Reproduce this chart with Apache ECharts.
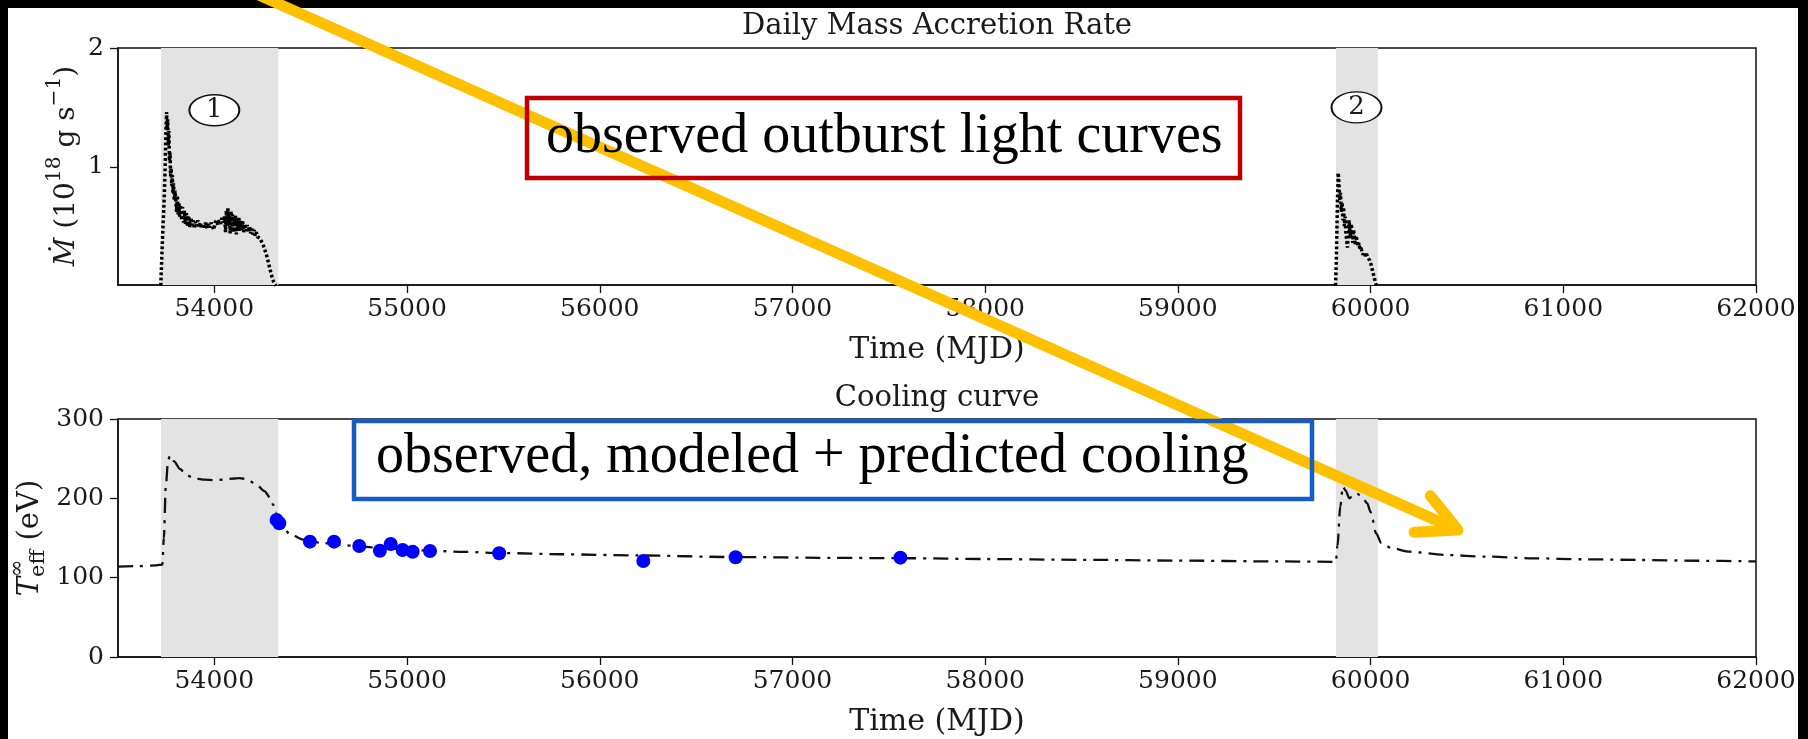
<!DOCTYPE html>
<html>
<head>
<meta charset="utf-8">
<script src="https://cdn.jsdelivr.net/npm/echarts@6/dist/echarts.min.js"></script>
<style>
  html, body { margin: 0; padding: 0; background: #000; }
  #chart { width: 1808px; height: 739px; }
</style>
</head>
<body>
<div id="chart"></div>
<script>
// ---- data -------------------------------------------------------------
const xTicks = [54000, 55000, 56000, 57000, 58000, 59000, 60000, 61000, 62000];
const mdotTicks = [1, 2];
const tempTicks = [0, 100, 200, 300];

// outburst windows (MJD)
const outburstBands = [[53723, 54332], [59820, 60038]];
const outburstLabels = [['1', 54000, 1.476], ['2', 59927, 1.50]];

// daily mass accretion rate, outburst 1  [MJD, 1e18 g/s]
const outburst1 = [
  [53722, 0.00], [53726, 0.18], [53730, 0.36], [53734, 0.52], [53738, 0.66],
  [53744, 0.95], [53748, 1.25], [53752, 1.46], [53755, 1.32], [53758, 1.40],
  [53761, 1.18], [53764, 1.30], [53767, 1.05], [53770, 1.12], [53773, 0.92],
  [53776, 0.99], [53779, 0.84], [53782, 0.93], [53785, 0.78], [53788, 0.86],
  [53792, 0.72], [53796, 0.80], [53800, 0.72], [53804, 0.62], [53808, 0.76],
  [53812, 0.60], [53816, 0.70], [53820, 0.58], [53825, 0.68], [53830, 0.55],
  [53835, 0.66], [53840, 0.53], [53845, 0.63], [53850, 0.52], [53855, 0.61],
  [53860, 0.50], [53866, 0.59], [53872, 0.49], [53878, 0.57], [53884, 0.51],
  [53890, 0.55], [53896, 0.48], [53902, 0.54], [53908, 0.50], [53914, 0.55],
  [53920, 0.49], [53927, 0.53], [53934, 0.48], [53941, 0.52], [53948, 0.49],
  [53955, 0.53], [53962, 0.48], [53969, 0.52], [53976, 0.49], [53983, 0.53],
  [53990, 0.50], [53997, 0.47], [54004, 0.53], [54011, 0.55], [54018, 0.51],
  [54025, 0.55], [54032, 0.52], [54039, 0.57], [54046, 0.53], [54053, 0.58],
  [54058, 0.45], [54062, 0.63], [54066, 0.50], [54070, 0.65], [54074, 0.54],
  [54078, 0.62], [54082, 0.44], [54086, 0.63], [54090, 0.52], [54094, 0.60],
  [54098, 0.45], [54102, 0.58], [54106, 0.50], [54110, 0.59], [54114, 0.43],
  [54118, 0.56], [54122, 0.48], [54127, 0.57], [54132, 0.46], [54137, 0.55],
  [54142, 0.47], [54147, 0.54], [54152, 0.45], [54158, 0.52], [54164, 0.46],
  [54170, 0.51], [54176, 0.45], [54182, 0.50], [54188, 0.44], [54194, 0.48],
  [54200, 0.43], [54206, 0.47], [54212, 0.42], [54218, 0.45], [54224, 0.41],
  [54230, 0.41], [54236, 0.40], [54242, 0.38], [54248, 0.36], [54254, 0.34],
  [54260, 0.31], [54266, 0.28], [54272, 0.25], [54278, 0.21], [54284, 0.17],
  [54290, 0.13], [54296, 0.09], [54302, 0.06], [54308, 0.03], [54314, 0.01],
  [54320, 0.00]
];

// daily mass accretion rate, outburst 2  [MJD, 1e18 g/s]
const outburst2 = [
  [59818, 0.00], [59822, 0.20], [59825, 0.45], [59828, 0.70], [59832, 0.95],
  [59836, 0.85], [59840, 0.72], [59844, 0.78], [59848, 0.62], [59852, 0.70],
  [59856, 0.55], [59860, 0.66], [59864, 0.50], [59868, 0.58], [59872, 0.44],
  [59876, 0.38], [59880, 0.32], [59884, 0.42], [59888, 0.55], [59892, 0.48],
  [59896, 0.40], [59900, 0.52], [59904, 0.45], [59908, 0.36], [59912, 0.47],
  [59916, 0.40], [59920, 0.34], [59925, 0.42], [59930, 0.37], [59935, 0.33],
  [59940, 0.36], [59945, 0.30], [59950, 0.33], [59955, 0.28], [59960, 0.26],
  [59966, 0.28], [59972, 0.25], [59978, 0.27], [59984, 0.24], [59990, 0.25],
  [59996, 0.21], [60002, 0.18], [60008, 0.14], [60014, 0.10], [60020, 0.06],
  [60026, 0.02], [60030, 0.00]
];

// modeled + predicted effective temperature  [MJD, eV]
const modelTemp = [
  [53500, 114], [53600, 114.5], [53700, 115.5], [53730, 116.5], [53738, 150],
  [53748, 215], [53760, 248], [53770, 254], [53790, 247], [53822, 237],
  [53856, 229], [53900, 225], [53950, 223.5], [54000, 223], [54050, 223.5],
  [54100, 225], [54130, 225.5], [54170, 224], [54220, 217], [54260, 209],
  [54289, 201], [54305, 192], [54318, 182], [54330, 172], [54350, 165],
  [54392, 155], [54461, 148], [54550, 144], [54650, 141.5], [54750, 139.5],
  [54860, 137.5], [55000, 135.5], [55120, 134], [55300, 132.5], [55500, 131],
  [55800, 129.5], [56200, 128], [56700, 126], [57200, 125], [57600, 124.5],
  [58000, 123.5], [58500, 122.5], [59000, 121.5], [59500, 120.5], [59820, 120],
  [59828, 140], [59843, 190], [59856, 215], [59870, 210], [59890, 200],
  [59910, 204], [59927, 206.5], [59955, 202], [59982, 194], [60000, 183],
  [60010, 173], [60028, 156], [60056, 143.5], [60111, 137], [60203, 132.7],
  [60388, 128.6], [60600, 126.5], [60850, 124.4], [61100, 123.2], [61404, 122.3],
  [61700, 121.3], [62000, 120.5]
];

// observed effective temperatures  [MJD, eV]
const observedTemp = [
  [54323, 172.8], [54337, 168.6], [54496, 145.4], [54621, 145.4], [54752, 140.0],
  [54859, 134.0], [54915, 142.5], [54977, 134.9], [55029, 132.7], [55119, 133.6],
  [55478, 130.7], [56226, 121.0], [56705, 125.7], [57560, 125.2]
];

// ---- styling helpers --------------------------------------------------
const SERIF = 'DejaVu Serif';
const INK = '#1a1a1a';
const TICK_FONT = 25;
const TITLE_FONT = 29;
const NAME_FONT = 30;

const measureCtx = document.createElement('canvas').getContext('2d');
function textWidth(text, font) {
  measureCtx.font = font;
  return measureCtx.measureText(text).width;
}

// A rotated axis title built from pieces with superscripts / subscripts.
function rotatedLabel(cx, cy, segs, size) {
  const pieces = [];
  let x = 0;
  const small = size * 0.72;
  segs.forEach(s => {
    if (s.stack) {
      const f = `${small}px "${SERIF}"`;
      const wSup = textWidth(s.stack.sup, f);
      const wSub = textWidth(s.stack.sub, f);
      pieces.push({ text: s.stack.sup, x, dy: -size * 0.42, font: f });
      pieces.push({ text: s.stack.sub, x, dy: size * 0.28, font: f });
      x += Math.max(wSup, wSub);
    } else {
      const fs = s.sup ? small : size;
      const font = `${s.italic ? 'italic ' : ''}${fs}px "${SERIF}"`;
      pieces.push({ text: s.text, x, dy: s.sup ? -size * 0.42 : 0, font });
      x += textWidth(s.text, font);
    }
  });
  const total = x;
  return {
    type: 'group', x: cx, y: cy, rotation: Math.PI / 2, z: 50,
    children: pieces.map(p => ({
      type: 'text', x: p.x - total / 2, y: p.dy,
      style: {
        text: p.text, font: p.font, fill: INK,
        align: 'left', verticalAlign: 'middle',
        textAlign: 'left', textVerticalAlign: 'middle'
      }
    }))
  };
}

function xAxisFor(gridIndex) {
  return {
    type: 'value', gridIndex, min: 53500, max: 62000,
    axisLine: { show: true, onZero: false, lineStyle: { color: '#111', width: 1.5 } },
    axisTick: { show: true, length: 8, customValues: xTicks, lineStyle: { color: '#111', width: 1.3 } },
    axisLabel: { customValues: xTicks, formatter: v => String(v), fontSize: TICK_FONT, fontFamily: SERIF, color: INK, margin: 12 },
    splitLine: { show: false },
    name: 'Time (MJD)', nameLocation: 'middle', nameGap: 50,
    nameTextStyle: { fontSize: NAME_FONT, fontFamily: SERIF, color: INK }
  };
}

function yAxisFor(gridIndex, min, max, ticks) {
  return {
    type: 'value', gridIndex, min, max,
    axisLine: { show: true, onZero: false, lineStyle: { color: '#111', width: 1.5 } },
    axisTick: { show: true, length: 8, customValues: ticks, lineStyle: { color: '#111', width: 1.3 } },
    axisLabel: { customValues: ticks, formatter: v => String(v), fontSize: TICK_FONT, fontFamily: SERIF, color: INK, margin: 14 },
    splitLine: { show: false }
  };
}

const bandArea = {
  silent: true,
  itemStyle: { color: '#e3e3e3' },
  data: outburstBands.map(b => [{ xAxis: b[0] }, { xAxis: b[1] }])
};

// ellipse drawn as a stretchable path symbol
const ELLIPSE = 'path://M0,1C0,0.45 0.45,0 1,0C1.55,0 2,0.45 2,1C2,1.55 1.55,2 1,2C0.45,2 0,1.55 0,1Z';
const outburstTags = {
  symbol: ELLIPSE,
  symbolSize: [50, 31],
  silent: true,
  itemStyle: { color: '#ffffff', borderColor: '#111', borderWidth: 1.6 },
  label: { show: true, position: 'inside', formatter: '{b}', color: INK, fontSize: 26, fontFamily: SERIF },
  data: outburstLabels.map(l => ({ name: l[0], coord: [l[1], l[2]] }))
};

const mdotLine = { color: '#000', width: 3.5, type: [2.8, 2.4] };

// annotation arrow geometry (pixels)
const arrowTip = [1458, 530];
const arrowTail = [252, -8];
const ang = Math.atan2(arrowTip[1] - arrowTail[1], arrowTip[0] - arrowTail[0]);
const barbLen = 44, barbAng = 27 * Math.PI / 180;
const barbA = [arrowTip[0] - barbLen * Math.cos(ang - barbAng), arrowTip[1] - barbLen * Math.sin(ang - barbAng)];
const barbB = [arrowTip[0] - barbLen * Math.cos(ang + barbAng), arrowTip[1] - barbLen * Math.sin(ang + barbAng)];
const ARROW = '#FFC000';

const centered = (text, x, y, size) => ({
  type: 'text', x, y, z: 50,
  style: { text, font: `${size}px "${SERIF}"`, fill: INK, align: 'center', verticalAlign: 'middle', textAlign: 'center', textVerticalAlign: 'middle' }
});

const option = {
  animation: false,
  backgroundColor: '#000',
  grid: [
    { left: 118, top: 48, width: 1638, height: 237, show: true, borderColor: '#111', borderWidth: 1.5 },
    { left: 118, top: 419, width: 1638, height: 238, show: true, borderColor: '#111', borderWidth: 1.5 }
  ],
  xAxis: [xAxisFor(0), xAxisFor(1)],
  yAxis: [yAxisFor(0, 0.005, 2, mdotTicks), yAxisFor(1, 0, 300, tempTicks)],
  series: [
    {
      name: 'Outburst 1', type: 'line', xAxisIndex: 0, yAxisIndex: 0,
      data: outburst1, showSymbol: false, lineStyle: mdotLine, z: 3,
      markArea: bandArea, markPoint: outburstTags
    },
    {
      name: 'Outburst 2', type: 'line', xAxisIndex: 0, yAxisIndex: 0,
      data: outburst2, showSymbol: false, lineStyle: mdotLine, z: 3
    },
    {
      name: 'Model', type: 'line', xAxisIndex: 1, yAxisIndex: 1,
      data: modelTemp, showSymbol: false, smooth: 0.3, smoothMonotone: 'x',
      lineStyle: { color: '#111', width: 2.3, type: [15, 7, 3, 7] }, z: 3,
      markArea: bandArea
    },
    {
      name: 'Observed', type: 'scatter', xAxisIndex: 1, yAxisIndex: 1,
      data: observedTemp, symbolSize: 14, itemStyle: { color: '#0000ff', opacity: 1 }, z: 4
    }
  ],
  graphic: [
    // white figure panel
    { type: 'rect', z: -10, shape: { x: 8, y: 8, width: 1790, height: 740 }, style: { fill: '#ffffff' } },
    // panel titles
    centered('Daily Mass Accretion Rate', 937, 26, TITLE_FONT),
    centered('Cooling curve', 937, 398, TITLE_FONT),
    // y axis titles
    rotatedLabel(67, 166, [
      { text: 'Ṁ', italic: true }, { text: ' (10' }, { text: '18', sup: true },
      { text: ' g s' }, { text: '−1', sup: true }, { text: ')' }
    ], 28),
    rotatedLabel(30, 538, [
      { text: 'T', italic: true }, { stack: { sup: '∞', sub: 'eff' } }, { text: ' (eV)' }
    ], 29),
    // arrow
    { type: 'polyline', z: 100, shape: { points: [arrowTail, [arrowTip[0] - 4 * Math.cos(ang), arrowTip[1] - 4 * Math.sin(ang)]] },
      style: { stroke: ARROW, lineWidth: 11, lineCap: 'round', fill: null } },
    { type: 'polyline', z: 100, shape: { points: [barbA, arrowTip, barbB] },
      style: { stroke: ARROW, lineWidth: 11, lineCap: 'round', lineJoin: 'round', fill: null } },
    // callout boxes
    { type: 'rect', z: 101, shape: { x: 527, y: 98, width: 713, height: 80 }, style: { fill: null, stroke: '#C00000', lineWidth: 4.5 } },
    { type: 'text', x: 546, y: 137, z: 102, style: { text: 'observed outburst light curves', font: '56px "Liberation Serif"', fill: '#000', align: 'left', verticalAlign: 'middle', textAlign: 'left', textVerticalAlign: 'middle' } },
    { type: 'rect', z: 101, shape: { x: 354, y: 421, width: 958, height: 78 }, style: { fill: null, stroke: '#155DC3', lineWidth: 4.5 } },
    { type: 'text', x: 376, y: 457, z: 102, style: { text: 'observed, modeled + predicted cooling', font: '56px "Liberation Serif"', fill: '#000', align: 'left', verticalAlign: 'middle', textAlign: 'left', textVerticalAlign: 'middle' } }
  ]
};

const chart = echarts.init(document.getElementById('chart'), null, { renderer: 'canvas' });
chart.setOption(option);
</script>
</body>
</html>
